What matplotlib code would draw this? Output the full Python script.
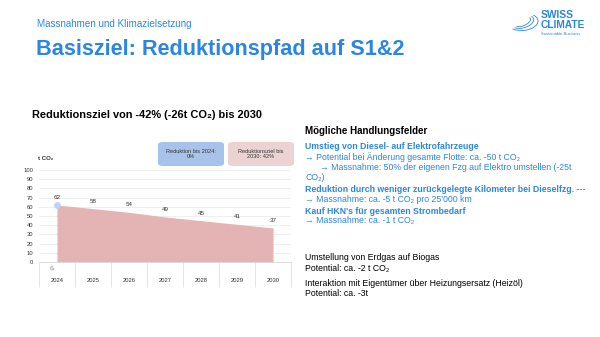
import matplotlib.pyplot as plt
from matplotlib.patches import FancyBboxPatch, Arc

plt.rcParams['font.family'] = ['Liberation Sans', 'DejaVu Sans']

# Data
years = ['2024', '2025', '2026', '2027', '2028', '2029', '2030']
emissions = [62, 58, 54, 49, 45, 41, 37]
y_ticks = [0, 10, 20, 30, 40, 50, 60, 70, 80, 90, 100]

BLUE = '#2b86e3'
W, H = 600, 337

fig = plt.figure(figsize=(6, 3.37), dpi=100)
fig.patch.set_facecolor('white')


def fx(px):
    return px / W


def fy(py):
    return 1 - py / H


# Header
fig.text(fx(37), fy(24), 'Massnahmen und Klimazielsetzung', color=BLUE,
         fontsize=7.1, va='center', ha='left')
fig.text(fx(36), fy(49), 'Basisziel: Reduktionspfad auf S1&2', color=BLUE,
         fontsize=15.6, fontweight='bold', va='center', ha='left')

# Logo
for w, h, ang in [(32, 16, 50), (26, 10, 50), (20, 6, 50)]:
    fig.patches.append(Arc((fx(523), fy(22)), fx(w), fy(0) - fy(h), angle=ang,
                           theta1=180, theta2=360, color=BLUE, lw=0.6,
                           transform=fig.transFigure))
fig.text(fx(541), fy(15.5), 'SWISS', color=BLUE, fontsize=7.4, fontweight='bold',
         va='center', ha='left')
fig.text(fx(541), fy(25.5), 'CLIMATE', color=BLUE, fontsize=7.4, fontweight='bold',
         va='center', ha='left')
fig.text(fx(541), fy(34), 'Sustainable Business', color=BLUE, fontsize=3,
         va='center', ha='left')

# Chart title
fig.text(fx(32), fy(115), 'Reduktionsziel von -42% (-26t CO₂) bis 2030',
         color='black', fontsize=7.9, fontweight='bold', va='center', ha='left')

# Legend boxes
for x0, txt, col in [(158, 'Reduktion bis 2024:\n0%', '#a8c3ea'),
                     (228, 'Reduktionsziel bis\n2030: 42%', '#ecd3d3')]:
    box = FancyBboxPatch((fx(x0), fy(166)), fx(66), fy(142) - fy(166),
                         boxstyle='round,pad=0,rounding_size=0.008',
                         transform=fig.transFigure, facecolor=col,
                         edgecolor='none')
    fig.patches.append(box)
    fig.text(fx(x0 + 33), fy(154), txt, fontsize=4.1, color='#333333',
             ha='center', va='center', linespacing=1.2)

fig.text(fx(38), fy(158), 't CO₂', fontsize=4.3, fontweight='bold',
         color='#333333', va='center', ha='left')

# Chart
ax = fig.add_axes([fx(39), fy(262), fx(291) - fx(39), fy(170) - fy(262)])
x = list(range(len(years)))
ax.fill_between(x, emissions, 0, color='#e4b3b3', lw=0, zorder=2)
ax.scatter([x[0]], [emissions[0]], s=24, color='#bcd3f3', zorder=3, lw=0)
for xi, v in zip(x, emissions):
    ax.annotate(str(v), (xi, v), xytext=(0, 3.5), textcoords='offset points',
                ha='center', va='bottom', fontsize=4.5, color='#333333')

ax.set_xlim(-0.5, len(years) - 0.5)
ax.set_ylim(0, 100)
ax.set_yticks(y_ticks)
ax.set_yticklabels([str(t) for t in y_ticks], fontsize=4.2, color='#333333')
ax.tick_params(axis='y', length=0, pad=4)
ax.grid(axis='y', color='#ececec', lw=0.6)
ax.set_axisbelow(True)
for s in ['top', 'right', 'left']:
    ax.spines[s].set_visible(False)
ax.spines['bottom'].set_color('#d8d8d8')
ax.spines['bottom'].set_linewidth(0.6)

ax.set_xticks([])
for xi, yr in zip(x, years):
    ax.text(xi, -20.5, yr, fontsize=4.2, color='#333333', ha='center',
            va='center', clip_on=False)
ax.vlines([xi - 0.5 for xi in x] + [x[-1] + 0.5], -27, 0, color='#e0e0e0',
          lw=0.6, clip_on=False)
ax.text(x[0] - 0.1, -7, str(emissions[0]), fontsize=3.4, color='#888888',
        rotation=35, ha='center', va='center', clip_on=False)

# Right-hand text
rx = 305
fig.text(fx(rx), fy(131), 'Mögliche Handlungsfelder', fontsize=7.0,
         fontweight='bold', color='black', va='center', ha='left')

lines = [
    (rx, 146, 'Umstieg von Diesel- auf Elektrofahrzeuge', BLUE, 'bold'),
    (rx, 157, '→ Potential bei Änderung gesamte Flotte: ca. -50 t CO₂', BLUE, 'normal'),
    (rx + 15, 167, '→ Massnahme: 50% der eigenen Fzg auf Elektro umstellen (-25t', BLUE, 'normal'),
    (rx, 177, 'CO₂)', BLUE, 'normal'),
    (rx, 189, 'Reduktion durch weniger zurückgelegte Kilometer bei Dieselfzg. ---', BLUE, 'bold'),
    (rx, 199, '→ Massnahme: ca. -5 t CO₂ pro 25\'000 km', BLUE, 'normal'),
    (rx, 211, 'Kauf HKN\'s für gesamten Strombedarf', BLUE, 'bold'),
    (rx, 221, '→ Massnahme: ca. -1 t CO₂', BLUE, 'normal'),
    (rx, 258, 'Umstellung von Erdgas auf Biogas', 'black', 'normal'),
    (rx, 268, 'Potential: ca. -2 t CO₂', 'black', 'normal'),
    (rx, 283, 'Interaktion mit Eigentümer über Heizungsersatz (Heizöl)', 'black', 'normal'),
    (rx, 293, 'Potential: ca. -3t', 'black', 'normal'),
]
for lx, ly, txt, col, fw in lines:
    fig.text(fx(lx), fy(ly), txt, fontsize=6.3, fontweight=fw, color=col,
             va='center', ha='left')

plt.savefig('out.png', dpi=100, facecolor='white')
